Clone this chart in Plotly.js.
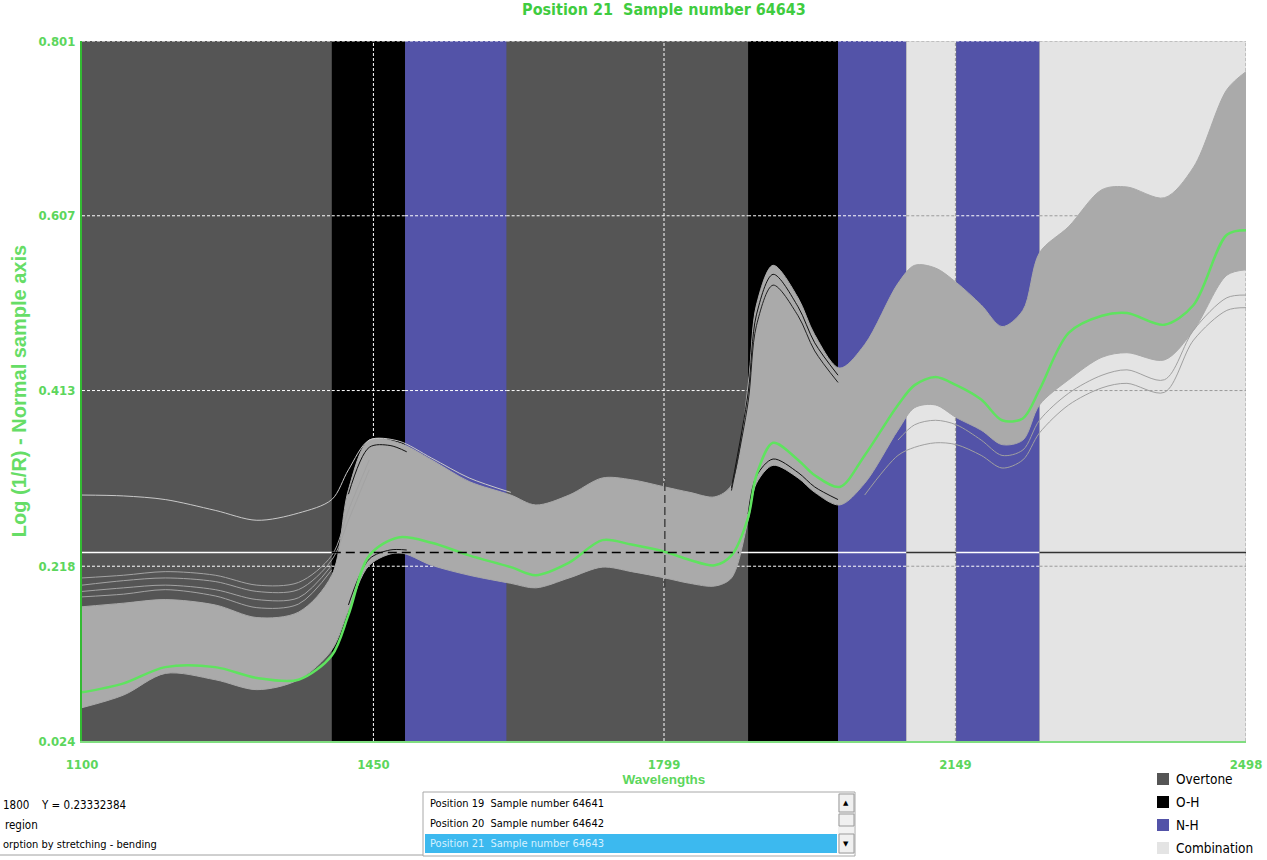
<!DOCTYPE html>
<html>
<head>
<meta charset="utf-8">
<script src="https://cdn.plot.ly/plotly-3.0.1.min.js"></script>
<style>
html,body{margin:0;padding:0;background:#ffffff;}
#chart{width:1267px;height:860px;}
</style>
</head>
<body>
<div id="chart"></div>
<script>
// ---------------- DATA ----------------
const chartTitle = "Position 21  Sample number 64643";
const xTitle = "Wavelengths";
const yTitle = "Log (1/R) - Normal sample axis";

const xTickVals = [1100, 1450, 1799, 2149, 2498];
const xTickText = ["1100", "1450", "1799", "2149", "2498"];
const yTickVals = [0.024, 0.218, 0.413, 0.607, 0.801];
const yTickText = ["0.024", "0.218", "0.413", "0.607", "0.801"];

// absorption regions
const bandStart = [1100, 1400, 1488, 1610, 1900, 2008, 2090, 2150, 2250];
const bandEnd   = [1400, 1488, 1610, 1900, 2008, 2090, 2150, 2250, 2498];
const bandType  = ["Overtone", "O-H", "N-H", "Overtone", "O-H", "N-H", "Combination", "N-H", "Combination"];
const legendNames  = ["Overtone", "O-H", "N-H", "Combination"];
const legendColors = ["#555555", "#000000", "#5353a8", "#e4e4e4"];

// spectra
const wavelengths = [1100,1150,1200,1260,1310,1360,1400,1420,1445,1480,1520,1565,1615,1645,1685,1725,1760,1800,1830,1860,1880,1900,1910,1930,1960,1980,2010,2040,2080,2100,2125,2150,2180,2205,2230,2250,2285,2325,2355,2400,2435,2475,2498];
const upperEnvelope = [0.173,0.177,0.181,0.175,0.161,0.167,0.208,0.303,0.358,0.355,0.336,0.312,0.297,0.286,0.297,0.316,0.314,0.306,0.300,0.295,0.308,0.419,0.508,0.552,0.516,0.475,0.438,0.464,0.532,0.552,0.549,0.533,0.508,0.484,0.502,0.566,0.595,0.636,0.639,0.627,0.661,0.747,0.767];
const lowerEnvelope = [0.061,0.075,0.099,0.092,0.081,0.092,0.125,0.169,0.219,0.233,0.219,0.208,0.199,0.194,0.205,0.217,0.212,0.205,0.199,0.196,0.205,0.269,0.310,0.330,0.316,0.300,0.286,0.310,0.369,0.394,0.397,0.383,0.369,0.353,0.358,0.397,0.425,0.450,0.455,0.447,0.480,0.541,0.547];
const selectedSample = [0.078,0.088,0.106,0.106,0.094,0.092,0.119,0.164,0.230,0.250,0.244,0.230,0.217,0.208,0.222,0.247,0.242,0.234,0.225,0.219,0.230,0.272,0.319,0.355,0.336,0.319,0.306,0.341,0.397,0.419,0.428,0.419,0.403,0.380,0.382,0.414,0.477,0.496,0.499,0.486,0.508,0.586,0.591];

// outlier spectra
const highOutlierX = [1100,1150,1200,1260,1310,1360,1400,1420,1445,1480,1520,1565,1615];
const highOutlier  = [0.297,0.296,0.292,0.280,0.269,0.277,0.292,0.325,0.358,0.357,0.338,0.316,0.300];
const leftLinesX = [1100,1150,1200,1260,1310,1360,1400,1420,1445];
const leftLine1 = [0.205,0.208,0.212,0.208,0.197,0.200,0.230,0.280,0.336];
const leftLine2 = [0.197,0.202,0.205,0.201,0.190,0.192,0.225,0.269,0.325];
const leftLine3 = [0.190,0.194,0.197,0.192,0.181,0.183,0.219];
const leftLine4 = [0.184,0.187,0.192,0.185,0.172,0.176,0.214];
const peak1X = [1420,1445,1470,1490];
const peak1Top = [0.298,0.350,0.352,0.345];
const peak1Low = [0.175,0.226,0.236,0.236];
const peak2X = [1880,1900,1910,1930,1960,1980,2008];
const peak2Top1 = [0.305,0.410,0.497,0.542,0.506,0.466,0.430];
const peak2Top2 = [0.302,0.400,0.485,0.530,0.496,0.457,0.422];
const peak2LowX = [1900,1910,1930,1960,1980,2008];
const peak2Low = [0.276,0.318,0.337,0.322,0.306,0.292];
const rightLow1X = [2040,2080,2100,2125,2150,2180,2205,2230,2250,2285,2325,2355,2400,2435,2475,2498];
const rightLow1  = [0.297,0.341,0.350,0.355,0.353,0.341,0.327,0.336,0.366,0.397,0.416,0.421,0.411,0.469,0.502,0.505];
const rightLow2X = [2080,2100,2125,2150,2180,2205,2230,2250,2285,2325,2355,2400,2435,2475,2498];
const rightLow2  = [0.358,0.375,0.380,0.375,0.358,0.341,0.347,0.380,0.410,0.430,0.436,0.425,0.480,0.516,0.519];

// cursor read-out
const cursorX = 1800;
const cursorY = 0.23332384;
const readoutLines = ["region", "orption by stretching - bending"];
const listItems = ["Position 19  Sample number 64641", "Position 20  Sample number 64642", "Position 21  Sample number 64643"];
const selectedItem = 2;

// ---------------- STYLE ----------------
const W = 1267, H = 860;
const M = {l: 82, r: 21, t: 41, b: 119};
const PW = W - M.l - M.r, PH = H - M.t - M.b;
const px2x = p => (p - M.l) / PW;
const py2y = p => (H - M.b - p) / PH;
const narrow = "'Liberation Sans Narrow', 'DejaVu Sans Condensed', 'Arial Narrow', sans-serif";
const green = "#5cd65c";
const colorOf = t => legendColors[legendNames.indexOf(t)];
const isLight = t => t === "Combination";

function interp(xs, ys, x) {
  for (let i = 0; i < xs.length - 1; i++) {
    if (x >= xs[i] && x <= xs[i + 1]) {
      const f = (x - xs[i]) / (xs[i + 1] - xs[i]);
      return ys[i] + f * (ys[i + 1] - ys[i]);
    }
  }
  return ys[ys.length - 1];
}
function bandAt(x) {
  for (let i = 0; i < bandStart.length; i++) if (x >= bandStart[i] && x < bandEnd[i]) return bandType[i];
  return bandType[bandType.length - 1];
}

// ---------------- TRACES ----------------
const spl = {shape: "spline", smoothing: 0.9};
const traces = [];
traces.push({x: wavelengths, y: lowerEnvelope, mode: "lines", line: Object.assign({color: "#a9a9a9", width: 1}, spl), hoverinfo: "skip"});
traces.push({x: wavelengths, y: upperEnvelope, mode: "lines", fill: "tonexty", fillcolor: "#aaaaaa", line: Object.assign({color: "#a9a9a9", width: 1}, spl), hoverinfo: "skip"});
function addLine(x, y, color, width) {
  traces.push({x: x, y: y, mode: "lines", line: Object.assign({color: color, width: width}, spl), hoverinfo: "skip"});
}
addLine(leftLinesX, leftLine1, "#a3a3a3", 1);
addLine(leftLinesX, leftLine2, "#a3a3a3", 1);
addLine(leftLinesX.slice(0, leftLine3.length), leftLine3, "#a3a3a3", 1);
addLine(leftLinesX.slice(0, leftLine4.length), leftLine4, "#a3a3a3", 1);
addLine(highOutlierX, highOutlier, "#c9c9c9", 1);
addLine(peak1X, peak1Top, "#111111", 1);
addLine(peak1X, peak1Low, "#111111", 1);
addLine(peak2X, peak2Top1, "#111111", 1);
addLine(peak2X, peak2Top2, "#222222", 1);
addLine(peak2LowX, peak2Low, "#111111", 1);
addLine(rightLow1X, rightLow1, "#a0a0a0", 1);
addLine(rightLow2X, rightLow2, "#a0a0a0", 1);
addLine(wavelengths, selectedSample, "#5fe35f", 2.5);

// ---------------- SHAPES ----------------
const shapes = [];
for (let i = 0; i < bandStart.length; i++) {
  shapes.push({type: "rect", xref: "x", yref: "paper", x0: bandStart[i], x1: bandEnd[i], y0: 0, y1: 1,
    fillcolor: colorOf(bandType[i]), line: {width: 0}, layer: "below"});
}
// grid lines
yTickVals.slice(1).forEach(v => {
  for (let i = 0; i < bandStart.length; i++) {
    shapes.push({type: "line", xref: "x", yref: "y", x0: bandStart[i], x1: bandEnd[i], y0: v, y1: v,
      line: {color: isLight(bandType[i]) ? "#9a9a9a" : "#ffffff", width: 1, dash: "3px,2px"}, layer: "below"});
  }
});
xTickVals.slice(1, -1).forEach(v => {
  shapes.push({type: "line", xref: "x", yref: "paper", x0: v, x1: v, y0: 0, y1: 1,
    line: {color: isLight(bandAt(v)) ? "#9a9a9a" : "#ffffff", width: 1, dash: "3px,2px"}, layer: "below"});
});
shapes.push({type: "line", xref: "x", yref: "paper", x0: xTickVals[4], x1: xTickVals[4], y0: 0, y1: 1,
  line: {color: "#9a9a9a", width: 1, dash: "3px,2px"}, layer: "below"});
// cursor horizontal line per region
for (let i = 0; i < bandStart.length; i++) {
  shapes.push({type: "line", xref: "x", yref: "y", x0: bandStart[i], x1: bandEnd[i], y0: cursorY, y1: cursorY,
    line: {color: isLight(bandType[i]) ? "#333333" : "#ffffff", width: 1.5}, layer: "below"});
}
// part of cursor line over the spectra (from the region edge to where the spectra leave it)
let cStart = null, cEnd = null;
for (let i = 0; i < wavelengths.length - 1; i++) {
  if (cStart === null && upperEnvelope[i] < cursorY && upperEnvelope[i + 1] >= cursorY) {
    const cross = wavelengths[i] + (cursorY - upperEnvelope[i]) / (upperEnvelope[i + 1] - upperEnvelope[i]) * (wavelengths[i + 1] - wavelengths[i]);
    cStart = bandStart.filter(b => b <= cross).pop();
  }
  if (cStart !== null && cEnd === null && lowerEnvelope[i] <= cursorY && lowerEnvelope[i + 1] > cursorY) {
    cEnd = wavelengths[i] + (cursorY - lowerEnvelope[i]) / (lowerEnvelope[i + 1] - lowerEnvelope[i]) * (wavelengths[i + 1] - wavelengths[i]);
  }
}
shapes.push({type: "line", xref: "x", yref: "y", x0: cStart, x1: cEnd, y0: cursorY, y1: cursorY,
  line: {color: "#000000", width: 1.5, dash: "9px,5px"}, layer: "above"});
shapes.push({type: "line", xref: "x", yref: "y", x0: cursorX, x1: cursorX,
  y0: interp(wavelengths, lowerEnvelope, cursorX) - 0.01, y1: interp(wavelengths, upperEnvelope, cursorX) + 0.01,
  line: {color: "#444444", width: 1.5, dash: "8px,4px"}, layer: "above"});

// bottom panels
shapes.push({type: "line", xref: "paper", yref: "paper", x0: px2x(0), x1: px2x(423), y0: py2y(855), y1: py2y(855), line: {color: "#a0a0a0", width: 1}});
shapes.push({type: "rect", xref: "paper", yref: "paper", x0: px2x(423), x1: px2x(855), y0: py2y(856), y1: py2y(792),
  fillcolor: "#ffffff", line: {color: "#a8a8a8", width: 1}});
shapes.push({type: "rect", xref: "paper", yref: "paper", x0: px2x(425), x1: px2x(837), y0: py2y(853), y1: py2y(834),
  fillcolor: "#3cb9ef", line: {width: 0}});
// scrollbar
shapes.push({type: "rect", xref: "paper", yref: "paper", x0: px2x(838), x1: px2x(854), y0: py2y(854), y1: py2y(793),
  fillcolor: "#f2f2f2", line: {width: 0}});
[[794, 812], [814, 826], [834, 853]].forEach(r => {
  shapes.push({type: "rect", xref: "paper", yref: "paper", x0: px2x(839), x1: px2x(854), y0: py2y(r[1]), y1: py2y(r[0]),
    fillcolor: "#f0f0f0", line: {color: "#9a9a9a", width: 1}});
});
// legend squares
const legendRow0 = 779, legendStep = 23;
legendNames.forEach((n, i) => {
  const cy = legendRow0 + i * legendStep;
  shapes.push({type: "rect", xref: "paper", yref: "paper", x0: px2x(1157), x1: px2x(1169), y0: py2y(cy + 6), y1: py2y(cy - 6),
    fillcolor: legendColors[i], line: {width: 0}});
});

// ---------------- ANNOTATIONS ----------------
const annotations = [];
const txt = (x, y, t, opt) => Object.assign({xref: "paper", yref: "paper", x: x, y: y, text: t, showarrow: false,
  xanchor: "left", yanchor: "middle", font: {family: narrow, size: 12, color: "#000000"}}, opt || {});
annotations.push(txt(px2x(1), py2y(805), String(cursorX), {font: {family: narrow, size: 11.5, color: "#000"}}));
annotations.push(txt(px2x(39), py2y(805), "Y = " + cursorY.toFixed(8), {font: {family: narrow, size: 11.5, color: "#000"}}));
annotations.push(txt(px2x(3), py2y(825), readoutLines[0], {font: {family: narrow, size: 11.5, color: "#000"}}));
annotations.push(txt(px2x(1), py2y(844), readoutLines[1], {font: {family: narrow, size: 11, color: "#000"}}));
listItems.forEach((s, i) => {
  annotations.push(txt(px2x(428), py2y(803 + i * 20), s, {font: {family: narrow, size: 11, color: i === selectedItem ? "#d6f1ff" : "#000000"}}));
});
annotations.push(txt(px2x(846), py2y(803), "▲", {xanchor: "center", font: {family: "DejaVu Sans", size: 7, color: "#000"}}));
annotations.push(txt(px2x(846), py2y(844), "▼", {xanchor: "center", font: {family: "DejaVu Sans", size: 7, color: "#000"}}));
legendNames.forEach((n, i) => {
  annotations.push(txt(px2x(1174), py2y(legendRow0 + i * legendStep), n, {font: {family: narrow, size: 13.5, color: "#000000"}}));
});

// ---------------- LAYOUT ----------------
const layout = {
  width: W, height: H,
  margin: M,
  paper_bgcolor: "#ffffff",
  plot_bgcolor: "#555555",
  showlegend: false,
  hovermode: false,
  title: {text: chartTitle, x: (M.l + PW / 2) / W, xanchor: "center", y: 1 - 9 / H, yanchor: "middle",
    font: {family: narrow, size: 16, color: "#3fcc3f", weight: "bold"}},
  xaxis: {
    range: [xTickVals[0], xTickVals[4]], tickvals: xTickVals, ticktext: xTickText,
    showgrid: false, zeroline: false, showline: true, linecolor: "#80dd80", linewidth: 2,
    ticks: "", ticklabelstandoff: 10,
    tickfont: {family: narrow, size: 13, color: green, weight: "bold"},
    title: {text: xTitle, standoff: 3, font: {family: "'Liberation Sans', Arial, sans-serif", size: 13.5, color: green, weight: "bold"}}
  },
  yaxis: {
    range: [yTickVals[0], yTickVals[4]], tickvals: yTickVals, ticktext: yTickText,
    showgrid: false, zeroline: false, showline: true, linecolor: "#33bb33", linewidth: 2,
    ticks: "", ticklabelstandoff: 2,
    tickfont: {family: narrow, size: 13, color: green, weight: "bold"},
    title: {text: yTitle, standoff: 6, font: {family: "'Liberation Sans', Arial, sans-serif", size: 20, color: "#66dd66", weight: "bold"}}
  },
  shapes: shapes,
  annotations: annotations
};

Plotly.newPlot("chart", traces, layout, {displayModeBar: false, staticPlot: true});
</script>
</body>
</html>
